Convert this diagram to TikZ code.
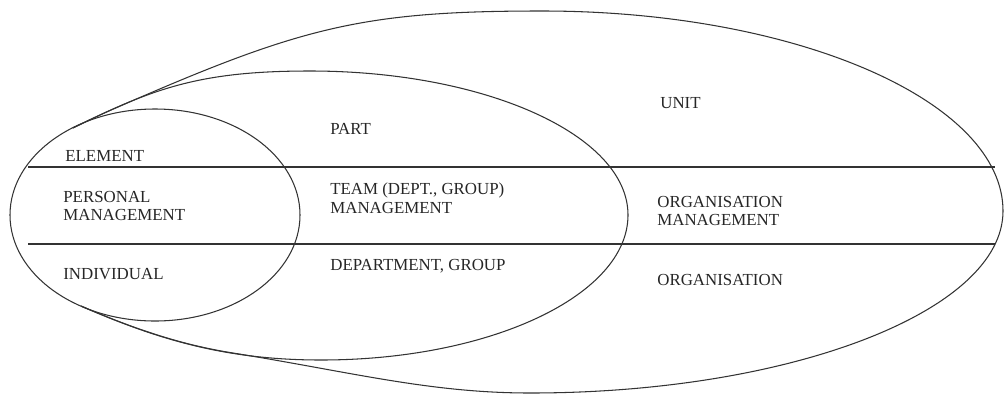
\documentclass[tikz,border=0pt]{standalone}
\usepackage{fontspec}
\setmainfont{Liberation Serif}

\begin{document}
\begin{tikzpicture}[x=0.2mm, y=0.2mm,
    every node/.style={inner sep=0pt, anchor=west, align=left, text=black!85,
      font=\fontsize{9.6}{10.8}\selectfont},
    rim/.style={line width=0.6pt, black!80}]
  \useasboundingbox (0,0) rectangle (1005,394);
  % unit (outer shape), shares its left ends with the part
  \draw[rim] (73,266) .. controls (89,274) and (104,281) .. (118,287)
    .. controls (301,367) and (362,383) .. (542,383)
    .. controls (796,383) and (1003,293) .. (1003,183)
    .. controls (1003,83) and (791,1) .. (530,1)
    .. controls (430,1) and (351,22) .. (233,41)
    .. controls (182,49) and (134,65) .. (81,88);
  % part (middle shape)
  \draw[rim] (73,266) .. controls (154,306) and (200,323) .. (310,323)
    .. controls (485,323) and (628,259) .. (628,179)
    .. controls (628,99) and (491,34) .. (321,34)
    .. controls (231,34) and (163,52) .. (81,88);
  % element
  \draw[rim] (155,179) ellipse [x radius=145, y radius=106];
  % the two bands
  \coordinate (a1) at (28,227);  \coordinate (a2) at (995,227);
  \coordinate (b1) at (28,150);  \coordinate (b2) at (995,150);
  \draw[rim] (a1) -- (a2);
  \draw[rim] (b1) -- (b2);
  % labels
  \node (element) at (65,238) {ELEMENT};
  \node (persmgmt) at (63,188) {PERSONAL\\MANAGEMENT};
  \node (individual) at (63,120) {INDIVIDUAL};
  \node (part) at (330,265) {PART};
  \node (teammgmt) at (330,196) {TEAM (DEPT., GROUP)\\MANAGEMENT};
  \node (dept) at (330,128) {DEPARTMENT, GROUP};
  \node (unit) at (660,291) {UNIT};
  \node (orgmgmt) at (657,183) {ORGANISATION\\MANAGEMENT};
  \node (org) at (657,114) {ORGANISATION};
\end{tikzpicture}
\end{document}
